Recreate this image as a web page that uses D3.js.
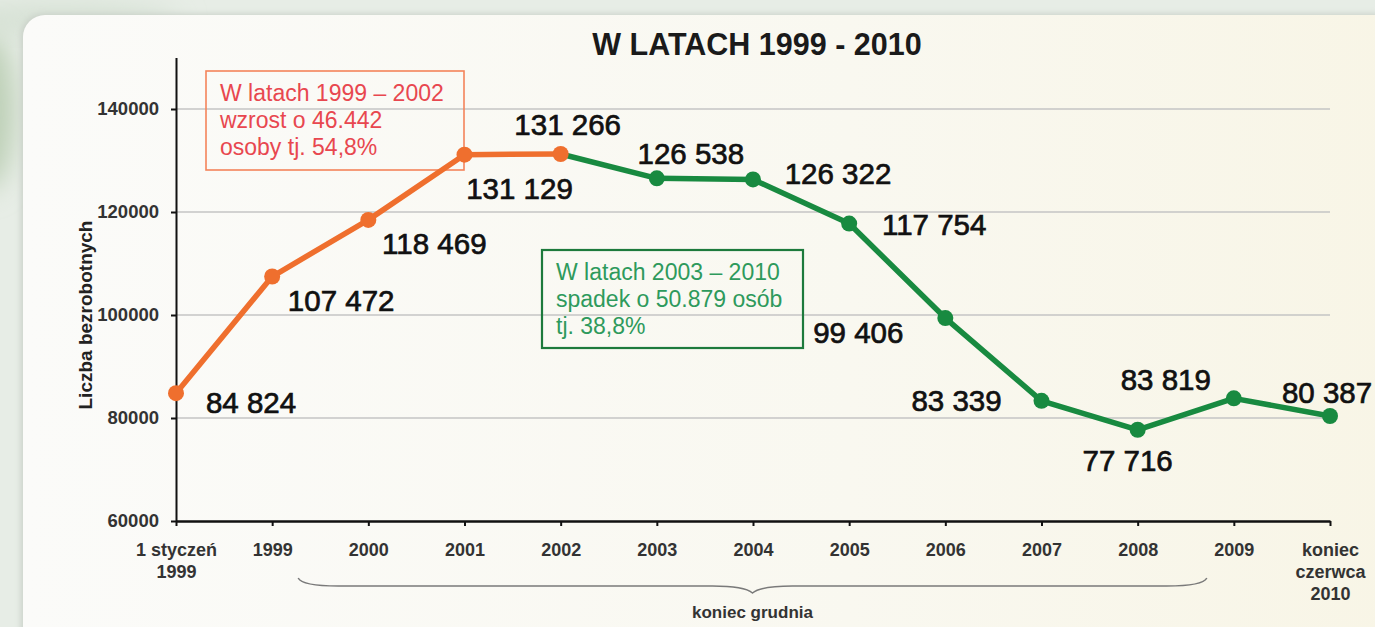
<!DOCTYPE html>
<html>
<head>
<meta charset="utf-8">
<script src="https://cdn.jsdelivr.net/npm/d3@7"></script>
<style>
  html, body { margin: 0; padding: 0; background: #e6ece5; }
  svg { display: block; font-family: "Liberation Sans", Arial, sans-serif; }
</style>
</head>
<body>
<div id="chart"></div>
<script>
// data
const categories = ["1 styczeń\n1999", "1999", "2000", "2001", "2002", "2003", "2004",
  "2005", "2006", "2007", "2008", "2009", "koniec\nczerwca\n2010"];
const values = [84824, 107472, 118469, 131129, 131266, 126538, 126322,
  117754, 99406, 83339, 77716, 83819, 80387];
const valueLabels = ["84 824", "107 472", "118 469", "131 129", "131 266", "126 538", "126 322",
  "117 754", "99 406", "83 339", "77 716", "83 819", "80 387"];
const yTicks = [60000, 80000, 100000, 120000, 140000];
const title = "W LATACH 1999 - 2010";
const yTitle = "Liczba bezrobotnych";
const braceLabel = "koniec grudnia";
const growthNote = ["W latach 1999 – 2002", "wzrost o 46.442", "osoby tj. 54,8%"];
const declineNote = ["W latach 2003 – 2010", "spadek o 50.879 osób", "tj. 38,8%"];

// label placement (offset of label centre from its point)
const labelOffsets = [[75, 9], [69, 24], [66, 23], [55, 34], [7, -30], [34, -25], [85, -6],
  [85, 1], [-87, 14], [-85, 0], [-10, 31], [-68, -19], [-3, -24]];

const W = 1375, H = 627;
const orange = "#ef6f2e", green = "#188a40";

const svg = d3.select("#chart").append("svg")
  .attr("width", W).attr("height", H);

const defs = svg.append("defs");
const grad = defs.append("linearGradient").attr("id", "panel").attr("x1", 0).attr("x2", 1);
grad.append("stop").attr("offset", "0%").attr("stop-color", "#fbfbf9");
grad.append("stop").attr("offset", "60%").attr("stop-color", "#f9f8f0");
grad.append("stop").attr("offset", "100%").attr("stop-color", "#f8f5e6");
defs.append("filter").attr("id", "blur").attr("x", "-50%").attr("y", "-50%")
  .attr("width", "200%").attr("height", "200%")
  .append("feGaussianBlur").attr("stdDeviation", 14);
defs.append("filter").attr("id", "shadow").attr("x", "-10%").attr("y", "-10%")
  .attr("width", "120%").attr("height", "120%")
  .append("feGaussianBlur").attr("stdDeviation", 3);

// background
svg.append("rect").attr("width", W).attr("height", H).attr("fill", "#e7ede6");
svg.append("ellipse").attr("cx", -15).attr("cy", 110).attr("rx", 30).attr("ry", 80)
  .attr("fill", "#bccfb5").attr("filter", "url(#blur)");
svg.append("ellipse").attr("cx", 60).attr("cy", 20).attr("rx", 120).attr("ry", 14)
  .attr("fill", "#d3dfd1").attr("filter", "url(#blur)");
svg.append("rect").attr("x", 21).attr("y", 14).attr("width", W).attr("height", H + 40)
  .attr("rx", 22).attr("fill", "#c9d0c8").attr("filter", "url(#shadow)");
svg.append("rect").attr("x", 23).attr("y", 15).attr("width", W).attr("height", H + 40)
  .attr("rx", 22).attr("fill", "url(#panel)");

// scales
const x = d3.scalePoint().domain(d3.range(categories.length)).range([176, 1330]);
const y = d3.scaleLinear().domain([60000, 150000]).range([521, 57.5]);

// grid
svg.append("g").selectAll("line")
  .data(yTicks.slice(1))
  .join("line")
  .attr("x1", x(0)).attr("x2", x(categories.length - 1))
  .attr("y1", d => y(d)).attr("y2", d => y(d))
  .attr("stroke", "#c4c4c4").attr("stroke-width", 1.6);

// y axis
const yAxis = svg.append("g")
  .attr("transform", `translate(${x(0)},0)`)
  .call(d3.axisLeft(y).tickValues(yTicks).tickFormat(d3.format("d"))
    .tickSize(5).tickSizeOuter(0).tickPadding(12));
yAxis.select(".domain").attr("stroke", "#111").attr("stroke-width", 2);
yAxis.selectAll(".tick line").attr("stroke", "#111").attr("stroke-width", 2);
yAxis.selectAll(".tick text")
  .attr("font-size", 18.5).attr("font-weight", "bold").attr("fill", "#333")
  .attr("font-family", "Liberation Sans, Arial, sans-serif");

// x axis
const xAxis = svg.append("g")
  .attr("transform", `translate(0,${y(60000)})`)
  .call(d3.axisBottom(x).tickSize(5).tickSizeOuter(0).tickFormat(""));
xAxis.select(".domain").attr("stroke", "#111").attr("stroke-width", 2.5);
xAxis.selectAll(".tick line").attr("stroke", "#111").attr("stroke-width", 2);
xAxis.selectAll(".tick").each(function (i) {
  const t = d3.select(this).append("text")
    .attr("text-anchor", "middle")
    .attr("font-size", 18).attr("font-weight", "bold").attr("fill", "#333")
    .attr("font-family", "Liberation Sans, Arial, sans-serif");
  categories[i].split("\n").forEach((s, k) => {
    t.append("tspan").attr("x", 0).attr("y", 35 + k * 22).text(s);
  });
});

// brace under the yearly categories
const bx0 = x(1) + 26, bx1 = x(11) - 27, bm = (bx0 + bx1) / 2, by = 586;
svg.append("path")
  .attr("d", `M${bx0},${by - 8} Q${bx0 + 4},${by} ${bx0 + 40},${by} L${bm - 40},${by}
    Q${bm - 8},${by} ${bm},${by + 7} Q${bm + 8},${by} ${bm + 40},${by} L${bx1 - 40},${by}
    Q${bx1 - 4},${by} ${bx1},${by - 8}`)
  .attr("fill", "none").attr("stroke", "#7a7a7a").attr("stroke-width", 1.5);
svg.append("text").attr("x", bm).attr("y", 618)
  .attr("text-anchor", "middle").attr("font-size", 17).attr("font-weight", "bold")
  .attr("fill", "#333").text(braceLabel);

// titles
svg.append("text").attr("x", 757).attr("y", 55)
  .attr("text-anchor", "middle").attr("font-size", 30.5).attr("font-weight", "bold")
  .attr("fill", "#1a1a1a").text(title);
svg.append("text")
  .attr("transform", "translate(92,315) rotate(-90)")
  .attr("text-anchor", "middle").attr("font-size", 19).attr("font-weight", "bold")
  .attr("fill", "#222").text(yTitle);

// notes
function note(lines, bx, byTop, bw, bh, stroke, sw, fill) {
  svg.append("rect").attr("x", bx).attr("y", byTop).attr("width", bw).attr("height", bh)
    .attr("fill", "none").attr("stroke", stroke).attr("stroke-width", sw);
  const t = svg.append("text").attr("font-size", 23).attr("fill", fill);
  lines.forEach((s, k) => {
    t.append("tspan").attr("x", bx + 14).attr("y", byTop + 30 + k * 27).text(s);
  });
}
note(growthNote, 206, 71, 258, 99, "#f4845a", 1.6, "#e8474f");

// lines
const line = d3.line().x((d, i) => x(d.i)).y(d => y(d.v));
const pts = values.map((v, i) => ({ i, v }));
const rising = pts.slice(0, 5), falling = pts.slice(4);

svg.append("path").datum(falling).attr("d", line)
  .attr("fill", "none").attr("stroke", green).attr("stroke-width", 5.5).attr("stroke-linejoin", "round");
svg.selectAll("circle.g").data(falling.slice(1)).join("circle").attr("class", "g")
  .attr("cx", d => x(d.i)).attr("cy", d => y(d.v)).attr("r", 8).attr("fill", green);
svg.append("path").datum(rising).attr("d", line)
  .attr("fill", "none").attr("stroke", orange).attr("stroke-width", 5.5).attr("stroke-linejoin", "round");
svg.selectAll("circle.o").data(rising).join("circle").attr("class", "o")
  .attr("cx", d => x(d.i)).attr("cy", d => y(d.v)).attr("r", 8).attr("fill", orange);

note(declineNote, 542, 250, 261, 98, "#1d7a3c", 2.2, "#2e9a5c");

// value labels
svg.append("g").selectAll("text")
  .data(pts)
  .join("text")
  .attr("x", d => x(d.i) + labelOffsets[d.i][0])
  .attr("y", d => y(d.v) + labelOffsets[d.i][1])
  .attr("dy", "0.36em")
  .attr("text-anchor", "middle")
  .attr("font-size", 29.5)
  .attr("fill", "#111").attr("stroke", "#111").attr("stroke-width", 0.7)
  .text(d => valueLabels[d.i]);
</script>
</body>
</html>
